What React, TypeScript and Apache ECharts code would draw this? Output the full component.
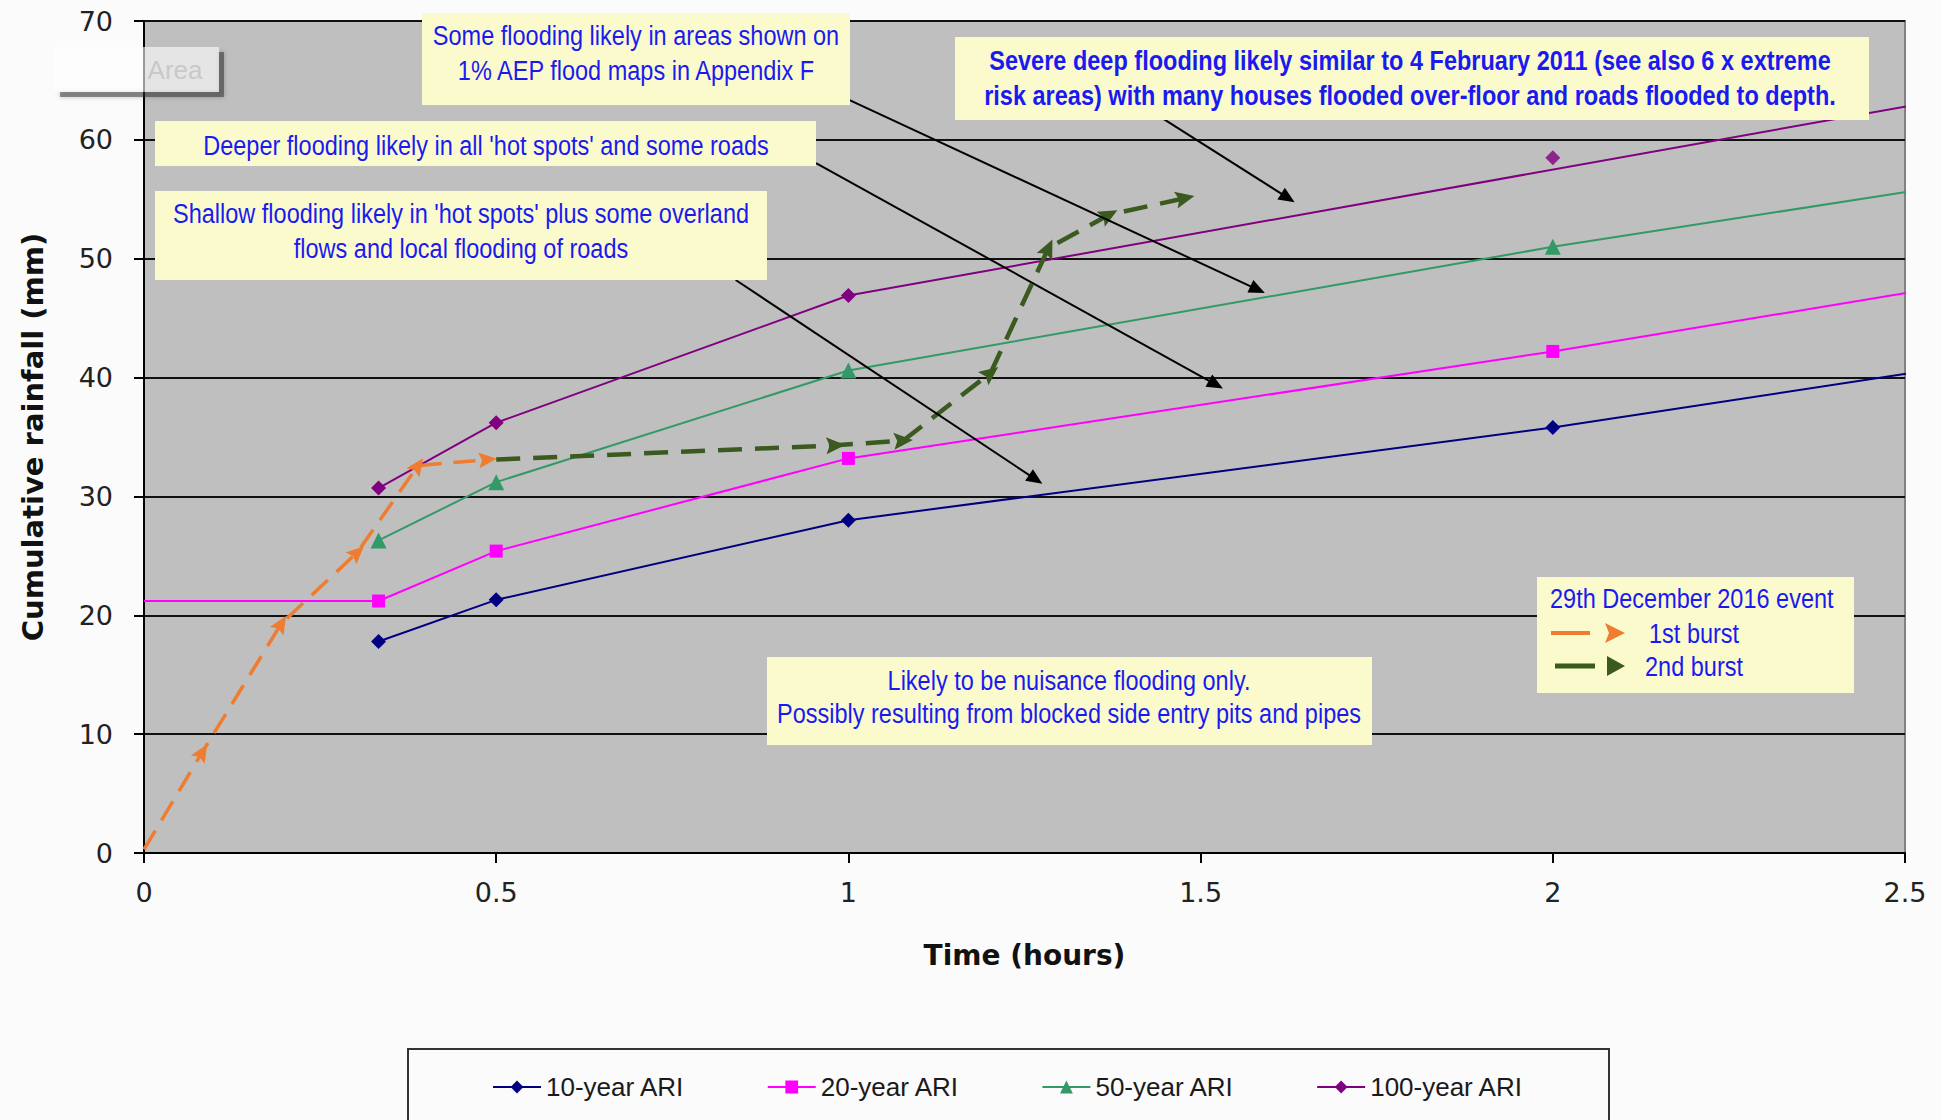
import { useEffect, useRef } from "react";
import * as echarts from "echarts";

// ---------------- data ----------------
const ARI_TIMES = [0.333, 0.5, 1, 2, 3];
const ari10 = [17.8, 21.3, 28.0, 35.8, 44.8];
const ari20Start = [0, 21.2];
const ari20 = [21.2, 25.4, 33.2, 42.2, 52.0];
const ari50 = [26.3, 31.2, 40.6, 51.0, 60.2];
const ARI100_LINE_TIMES = [0.333, 0.5, 1, 3];
const ari100Line = [30.7, 36.2, 46.9, 68.1];
const ari100Marker = [2, 58.5];

const burst1Times = [0, 0.083, 0.195, 0.303, 0.389, 0.488];
const burst1Vals = [0.3, 8.5, 19.3, 25.3, 32.6, 33.1];
const burst2Times = [0.5, 0.982, 1.078, 1.202, 1.284, 1.37, 1.478];
const burst2Vals = [33.1, 34.3, 34.7, 40.4, 50.9, 53.7, 55.1];

const LEGEND_NAMES = ["10-year ARI", "20-year ARI", "50-year ARI", "100-year ARI"];
const X_TITLE = "Time (hours)";
const Y_TITLE = "Cumulative rainfall (mm)";

// annotation pointer lines, in data coordinates [start, end]
const POINTERS = [
  [[1.0017, 63.35], [1.581, 47.4]],
  [[0.954, 58.05], [1.5217, 39.41]],
  [[0.84, 48.21], [1.2659, 31.43]],
  [[1.4421, 61.95], [1.6239, 55.12]],
];

const NOTES = [
  { text: "Some flooding likely in areas shown on\n1% AEP flood maps in Appendix F", bold: false },
  { text: "Deeper flooding likely in all 'hot spots' and some roads", bold: false },
  { text: "Shallow flooding likely in 'hot spots' plus some overland\nflows and local flooding of roads", bold: false },
  { text: "Severe deep flooding likely similar to 4 February 2011 (see also 6 x extreme\nrisk areas) with many houses flooded over-floor and roads flooded to depth.", bold: true },
  { text: "Likely to be nuisance flooding only.\nPossibly resulting from blocked side entry pits and pipes", bold: false },
];
const EVENT_TITLE = "29th December 2016 event";
const EVENT_ITEMS = ["1st burst", "2nd burst"];

// ---------------- layout / style ----------------
const W = 1941;
const H = 1120;
const GRID = { left: 144, right: 36, top: 21, bottom: 267 };
const X_MAX = 2.5;
const Y_MAX = 70;
const PX_PER_X = (W - GRID.left - GRID.right) / X_MAX;
const PX_PER_Y = (H - GRID.top - GRID.bottom) / Y_MAX;

const NOTE_LAYOUT = [
  { x: 422, y: 13, w: 428, h: 92, cx: 636, cy: 53, lh: 35 },
  { x: 155, y: 121, w: 661, h: 45, cx: 486, cy: 145, lh: 35 },
  { x: 155, y: 191, w: 612, h: 89, cx: 461, cy: 231, lh: 35 },
  { x: 955, y: 37, w: 914, h: 83, cx: 1410, cy: 78, lh: 35 },
  { x: 767, y: 657, w: 605, h: 88, cx: 1069, cy: 697, lh: 33 },
];
const EVENT_BOX = { x: 1537, y: 577, w: 317, h: 116 };

const NAVY = "#000080";
const MAGENTA = "#ff00ff";
const SEA = "#339966";
const PURPLE = "#800080";
const ORANGE = "#ee7d31";
const DKGREEN = "#3a5a20";
const NOTE_BLUE = "#1a1af0";
const NOTE_BG = "#fafacc";
const NOTE_FONT = "'Liberation Sans', Arial, sans-serif";
const AXIS_FONT = "'DejaVu Sans', Verdana, sans-serif";
const ARROW_PATH = "path://M10,0 L20,22 L10,18 L0,22 Z";

function arrowData(times: number[], vals: number[]) {
  return times.map((t, i) => {
    if (i === 0) return { value: [t, vals[i]], symbol: "none" };
    const dx = (t - times[i - 1]) * PX_PER_X;
    const dy = (vals[i] - vals[i - 1]) * PX_PER_Y;
    const ang = (Math.atan2(dy, dx) * 180) / Math.PI;
    return { value: [t, vals[i]], symbolRotate: ang - 90 };
  });
}

function ariData(times: number[], vals: number[]) {
  return times.map((t, i) =>
    t > X_MAX ? { value: [t, vals[i]], symbol: "none" } : { value: [t, vals[i]] }
  );
}

function noteText(x: number, y: number, text: string, bold: boolean, align: string, lh: number) {
  return {
    type: "text",
    x,
    y,
    scaleX: 0.84,
    z: 102,
    silent: true,
    style: {
      text,
      align,
      verticalAlign: "middle",
      fontFamily: NOTE_FONT,
      fontSize: 28,
      fontWeight: bold ? "bold" : "normal",
      lineHeight: lh,
      fill: NOTE_BLUE,
    },
  };
}

function buildGraphics() {
  const g: any[] = [];
  NOTES.forEach((n, i) => {
    const L = NOTE_LAYOUT[i];
    g.push({
      type: "rect",
      z: 101,
      silent: true,
      shape: { x: L.x, y: L.y, width: L.w, height: L.h },
      style: { fill: NOTE_BG },
    });
    g.push(noteText(L.cx, L.cy, n.text, n.bold, "center", L.lh));
  });
  // event box
  g.push({
    type: "rect",
    z: 101,
    silent: true,
    shape: { x: EVENT_BOX.x, y: EVENT_BOX.y, width: EVENT_BOX.w, height: EVENT_BOX.h },
    style: { fill: NOTE_BG },
  });
  g.push(noteText(1550, 598, EVENT_TITLE, false, "left", 30));
  g.push(noteText(1649, 633, EVENT_ITEMS[0], false, "left", 30));
  g.push(noteText(1645, 666, EVENT_ITEMS[1], false, "left", 30));
  g.push({
    type: "line",
    z: 102,
    silent: true,
    shape: { x1: 1551, y1: 633, x2: 1590, y2: 633 },
    style: { stroke: ORANGE, lineWidth: 4 },
  });
  g.push({
    type: "polygon",
    z: 102,
    silent: true,
    shape: { points: [[1625, 633], [1605, 623], [1609, 633], [1605, 643]] },
    style: { fill: ORANGE },
  });
  g.push({
    type: "line",
    z: 102,
    silent: true,
    shape: { x1: 1555, y1: 666, x2: 1595, y2: 666 },
    style: { stroke: DKGREEN, lineWidth: 5 },
  });
  g.push({
    type: "polygon",
    z: 102,
    silent: true,
    shape: { points: [[1625, 666], [1607, 656], [1607, 676]] },
    style: { fill: DKGREEN },
  });
  // legend frame
  g.push({
    type: "rect",
    z: 5,
    silent: true,
    shape: { x: 408, y: 1049, width: 1201, height: 120 },
    style: { fill: "none", stroke: "#333", lineWidth: 2 },
  });
  // ghost "Area" tooltip
  g.push({
    type: "polygon",
    z: 103,
    silent: true,
    shape: {
      points: [[60, 92], [219, 92], [219, 52], [224, 52], [224, 97], [60, 97]],
    },
    style: { fill: "rgba(40,40,40,0.5)", shadowBlur: 5, shadowColor: "rgba(0,0,0,0.5)" },
  });
  g.push({
    type: "rect",
    z: 104,
    silent: true,
    shape: { x: 54, y: 47, width: 165, height: 45 },
    style: { fill: "rgba(255,255,255,0.6)" },
  });
  g.push({
    type: "text",
    x: 175,
    y: 70,
    z: 105,
    silent: true,
    style: {
      text: "Area",
      align: "center",
      verticalAlign: "middle",
      fontFamily: NOTE_FONT,
      fontSize: 26,
      fill: "#c9c9c9",
    },
  });
  return g;
}

export default function App() {
  const ref = useRef<HTMLDivElement>(null);

  useEffect(() => {
    if (!ref.current) return;
    const chart = echarts.init(ref.current, undefined, { renderer: "svg" });

    const ariBase = (name: string, color: string, symbol: string, size: number, data: any[]) => ({
      type: "line",
      name,
      data,
      symbol,
      symbolSize: size,
      showAllSymbol: true,
      clip: true,
      lineStyle: { color, width: 2 },
      itemStyle: { color },
      z: 3,
    });

    const option: any = {
      animation: false,
      backgroundColor: "#fbfbfb",
      grid: {
        left: GRID.left,
        right: GRID.right,
        top: GRID.top,
        bottom: GRID.bottom,
        show: true,
        backgroundColor: "#bfbfbf",
        borderColor: "#828282",
        borderWidth: 2,
        containLabel: false,
        outerBoundsMode: "none",
      },
      legend: {
        data: LEGEND_NAMES,
        left: 492,
        top: 1074,
        padding: 0,
        itemWidth: 48,
        itemHeight: 16,
        itemGap: 82,
        selectedMode: false,
        textStyle: {
          fontFamily: NOTE_FONT,
          fontSize: 26,
          lineHeight: 26,
          color: "#1a1a1a",
        },
      },
      xAxis: {
        type: "value",
        min: 0,
        max: X_MAX,
        interval: 0.5,
        name: X_TITLE,
        nameLocation: "middle",
        nameGap: 88,
        nameTextStyle: { fontFamily: AXIS_FONT, fontWeight: "bold", fontSize: 28, color: "#111" },
        axisLine: { show: true, onZero: false, lineStyle: { color: "#000", width: 2 } },
        axisTick: { show: true, length: 10, lineStyle: { color: "#000", width: 2 } },
        axisLabel: { margin: 26, fontFamily: AXIS_FONT, fontSize: 27, color: "#222" },
        splitLine: { show: false },
      },
      yAxis: {
        type: "value",
        min: 0,
        max: Y_MAX,
        interval: 10,
        name: Y_TITLE,
        nameLocation: "middle",
        nameGap: 97,
        nameTextStyle: { fontFamily: AXIS_FONT, fontWeight: "bold", fontSize: 29, color: "#111" },
        axisLine: { show: true, onZero: false, lineStyle: { color: "#000", width: 2 } },
        axisTick: { show: true, length: 10, lineStyle: { color: "#000", width: 2 } },
        axisLabel: { margin: 31, fontFamily: AXIS_FONT, fontSize: 27, color: "#222" },
        splitLine: { show: true, lineStyle: { color: "#111", width: 2 } },
      },
      series: [
        ariBase("10-year ARI", NAVY, "diamond", 15, ariData(ARI_TIMES, ari10)),
        ariBase("20-year ARI", MAGENTA, "rect", 13, [
          { value: ari20Start, symbol: "none" },
          ...ariData(ARI_TIMES, ari20),
        ]),
        ariBase("50-year ARI", SEA, "triangle", 16, ariData(ARI_TIMES, ari50)),
        ariBase("100-year ARI", PURPLE, "diamond", 15, ariData(ARI100_LINE_TIMES, ari100Line)),
        {
          type: "scatter",
          name: "100-year ARI",
          data: [ari100Marker],
          symbol: "diamond",
          symbolSize: 15,
          itemStyle: { color: PURPLE },
          z: 3,
        },
        {
          type: "line",
          name: "1st burst",
          data: arrowData(burst1Times, burst1Vals),
          symbol: ARROW_PATH,
          symbolSize: [16, 18],
          showAllSymbol: true,
          lineStyle: { color: ORANGE, width: 3.5, type: [22, 12] },
          itemStyle: { color: ORANGE },
          z: 4,
        },
        {
          type: "line",
          name: "2nd burst",
          data: arrowData(burst2Times, burst2Vals),
          symbol: ARROW_PATH,
          symbolSize: [17, 19],
          showAllSymbol: true,
          lineStyle: { color: DKGREEN, width: 4.5, type: [24, 13] },
          itemStyle: { color: DKGREEN },
          z: 4,
        },
        {
          type: "line",
          name: "pointers",
          data: [],
          symbol: "none",
          z: 5,
          markLine: {
            silent: true,
            animation: false,
            symbol: ["none", "triangle"],
            symbolSize: [14, 16],
            label: { show: false },
            lineStyle: { color: "#000", width: 2, type: "solid" },
            itemStyle: { color: "#000" },
            data: POINTERS.map(([a, b]) => [{ coord: a }, { coord: b }]),
          },
        },
      ],
      graphic: buildGraphics(),
    };

    chart.setOption(option);
    return () => chart.dispose();
  }, []);

  return (
    <div
      ref={ref}
      style={{ position: "fixed", left: 0, top: 0, width: W, height: H, background: "#fbfbfb" }}
    />
  );
}
